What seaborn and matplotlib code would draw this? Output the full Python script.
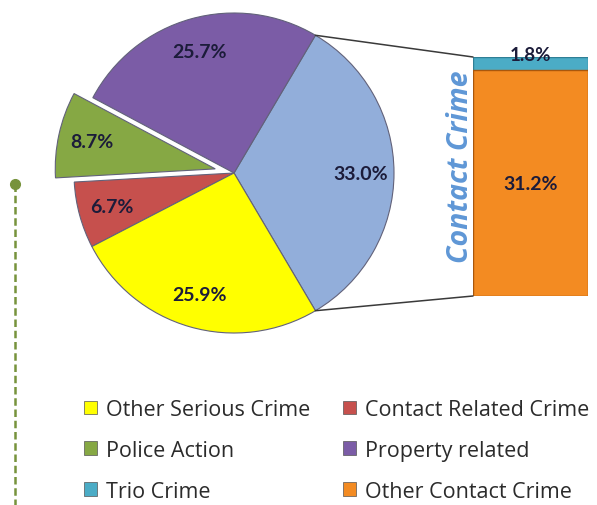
import numpy as np
import matplotlib
matplotlib.use('Agg')
import matplotlib.pyplot as plt
import seaborn as sns
from matplotlib.patches import Patch, ConnectionPatch
from matplotlib.lines import Line2D

# pie data (counter-clockwise from the lower edge of the blue slice)
pie_labels = ['Contact Crime', 'Property related', 'Police Action',
              'Contact Related Crime', 'Other Serious Crime']
pie_values = [33.0, 25.7, 8.7, 6.7, 25.9]
pie_colors = ['#92AEDA', '#7B5CA6', '#86A844', '#C6504D', '#FFFF00']
pie_explode = [0, 0, 0.12, 0, 0]

# breakdown of the contact crime slice
bar_labels = ['Other Contact Crime', 'Trio Crime']
bar_values = [31.2, 1.8]
bar_colors = ['#F38B22', '#4BACC6']

legend_order = ['Other Serious Crime', 'Police Action', 'Trio Crime',
                'Contact Related Crime', 'Property related', 'Other Contact Crime']

sns.set_theme(style='white')
plt.rcParams['font.family'] = ['Open Sans', 'DejaVu Sans']

W, H = 597, 506
fig = plt.figure(figsize=(W / 100, H / 100), dpi=100)

# pie geometry in pixels
cx, cy, rx, ry = 234, 174, 160, 160
L = 1.4
ax_pie = fig.add_axes([(cx - L * rx) / W, (H - cy - L * ry) / H,
                       2 * L * rx / W, 2 * L * ry / H])
ax_pie.patch.set_alpha(0)

wedges, texts, autotexts = ax_pie.pie(
    pie_values, colors=pie_colors, explode=pie_explode,
    startangle=-pie_values[0] / 100 * 180, counterclock=True,
    autopct='%1.1f%%', pctdistance=0.79,
    wedgeprops=dict(edgecolor='#62627a', linewidth=0.8),
    textprops=dict(fontsize=14, fontweight='bold', color='#1c1c3a', family='Lato'))
ax_pie.set_aspect('auto')
ax_pie.set_xlim(-L, L)
ax_pie.set_ylim(-L, L)
ax_pie.axis('off')

# stacked bar
bx0, bx1, by0, by1 = 473, 588, 58, 297
ax_bar = fig.add_axes([bx0 / W, (H - by1) / H, (bx1 - bx0) / W, (by1 - by0) / H])
total = sum(bar_values)
sns.barplot(x=['Contact Crime'], y=[total], color=bar_colors[1], width=1,
            edgecolor='#2f7f96', linewidth=1, saturation=1, ax=ax_bar)
sns.barplot(x=['Contact Crime'], y=[bar_values[0]], color=bar_colors[0], width=1,
            edgecolor='#a9570c', linewidth=1, saturation=1, ax=ax_bar)
ax_bar.set_xlim(-0.5, 0.5)
ax_bar.set_ylim(0, total)
ax_bar.axis('off')
ax_bar.text(0, bar_values[0] / 2, '%.1f%%' % bar_values[0], ha='center', va='center',
            fontsize=14, fontweight='bold', color='#1c1c3a', family='Lato')
ax_bar.text(0, total + 0.4, '%.1f%%' % bar_values[1], ha='center', va='center',
            fontsize=13.5, fontweight='bold', color='#1c1c3a', family='Lato', clip_on=False)

# connector lines from the blue slice to the bar
w = wedges[0]
for ang, yb in [(w.theta2, total), (w.theta1, 0)]:
    p = (np.cos(np.deg2rad(ang)), np.sin(np.deg2rad(ang)))
    con = ConnectionPatch(xyA=p, coordsA=ax_pie.transData, xyB=(-0.5, yb),
                          coordsB=ax_bar.transData, color='#3a3a3a', linewidth=1.1)
    fig.add_artist(con)

fig.text(461 / W, 1 - 167 / H, 'Contact Crime', rotation=90, ha='center', va='center',
         fontsize=20.5, fontweight='bold', fontstyle='italic', color='#5F97D6')

# legend
cmap = dict(zip(pie_labels[1:] + bar_labels, pie_colors[1:] + bar_colors))
handles = [Patch(facecolor=cmap[k], edgecolor='#555555', linewidth=0.5, label=k)
           for k in legend_order]
fig.legend(handles=handles, ncol=2, loc='upper left', bbox_to_anchor=(84 / W, 1 - 400 / H),
           frameon=False, fontsize=15.5, handlelength=0.6, handleheight=0.6,
           handletextpad=0.4, labelspacing=0.92, columnspacing=1.55,
           borderpad=0, borderaxespad=0, labelcolor='#2b2b2b')

# dashed green marker line on the left
fig.add_artist(Line2D([15 / W, 15 / W], [1 - 185 / H, 0], color='#77933C',
                      linestyle=(0, (3, 1.5)), linewidth=1.8))
fig.add_artist(Line2D([15 / W], [1 - 185 / H], marker='o', markersize=7,
                      color='#77933C'))

fig.savefig('out.png', dpi=100)
